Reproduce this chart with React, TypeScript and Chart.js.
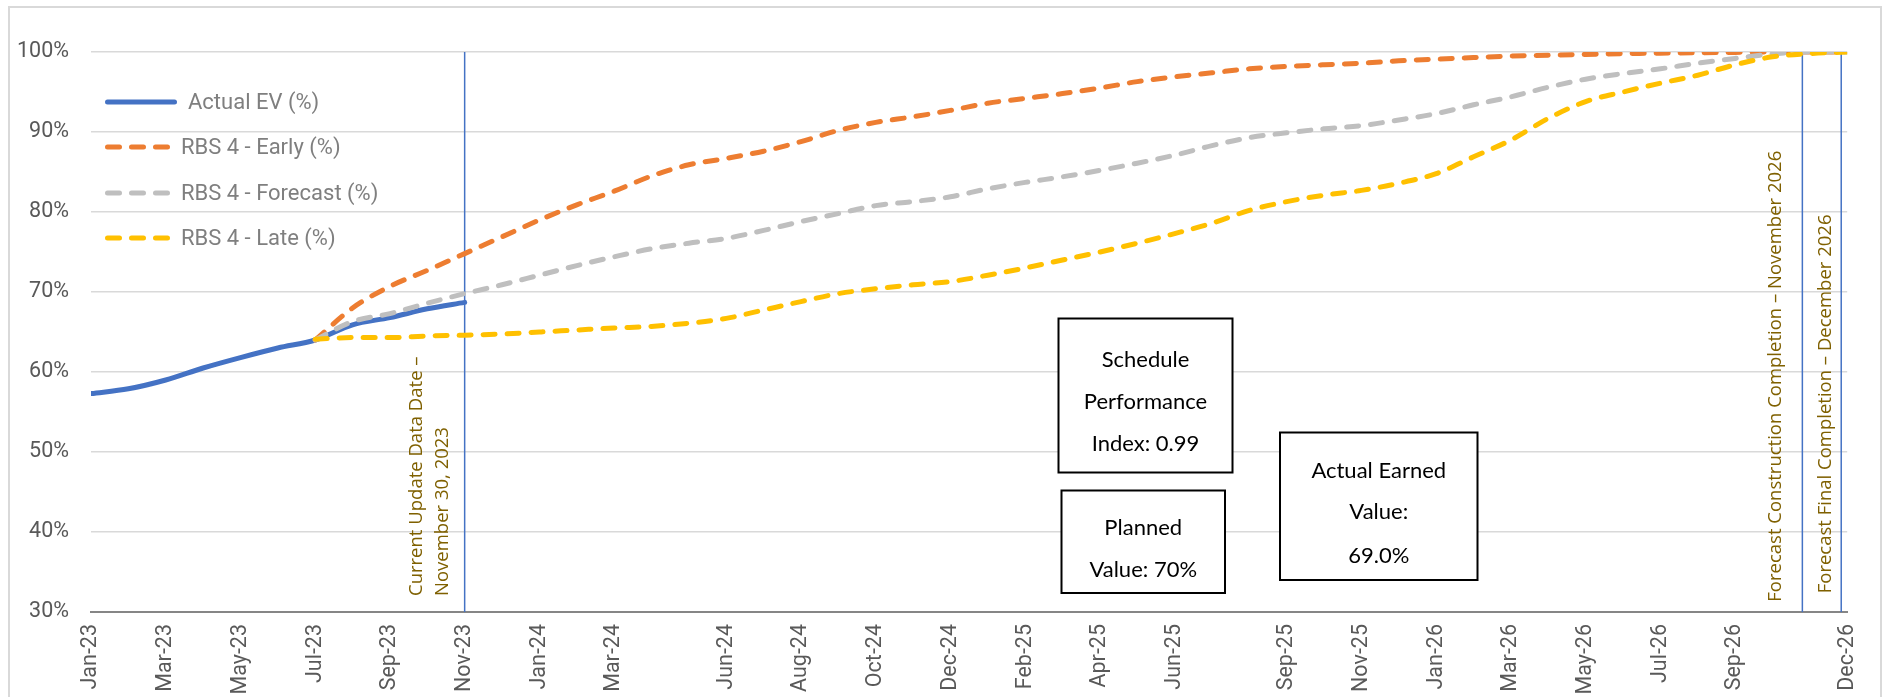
import React, { useEffect, useRef } from 'react';
import { Chart, registerables } from 'chart.js';

Chart.register(...registerables);

// ---------- data ----------
const MONTHS = [
  'Jan-23', 'Feb-23', 'Mar-23', 'Apr-23', 'May-23', 'Jun-23', 'Jul-23', 'Aug-23', 'Sep-23', 'Oct-23', 'Nov-23', 'Dec-23',
  'Jan-24', 'Feb-24', 'Mar-24', 'Apr-24', 'May-24', 'Jun-24', 'Jul-24', 'Aug-24', 'Sep-24', 'Oct-24', 'Nov-24', 'Dec-24',
  'Jan-25', 'Feb-25', 'Mar-25', 'Apr-25', 'May-25', 'Jun-25', 'Jul-25', 'Aug-25', 'Sep-25', 'Oct-25', 'Nov-25', 'Dec-25',
  'Jan-26', 'Feb-26', 'Mar-26', 'Apr-26', 'May-26', 'Jun-26', 'Jul-26', 'Aug-26', 'Sep-26', 'Oct-26', 'Nov-26', 'Dec-26',
];

const TICK_LABELS = [
  'Jan-23', 'Mar-23', 'May-23', 'Jul-23', 'Sep-23', 'Nov-23', 'Jan-24', 'Mar-24', 'Jun-24', 'Aug-24', 'Oct-24', 'Dec-24',
  'Feb-25', 'Apr-25', 'Jun-25', 'Sep-25', 'Nov-25', 'Jan-26', 'Mar-26', 'May-26', 'Jul-26', 'Sep-26', 'Dec-26',
];

const ACTUAL_START = 'Jan-23';
const ACTUAL_EV = [57.3, 57.9, 59.0, 60.5, 61.8, 63.0, 64.0, 65.9, 66.8, 67.9, 68.7];

const PLAN_START = 'Jul-23';
const EARLY = [
  64.0, 68.0, 70.7, 72.7, 74.8, 76.9, 79.0, 80.9, 82.6, 84.5, 85.9, 86.7,
  87.6, 88.8, 90.2, 91.2, 91.9, 92.7, 93.6, 94.2, 94.8, 95.5, 96.3, 96.9,
  97.4, 97.9, 98.2, 98.4, 98.6, 98.9, 99.1, 99.3, 99.5, 99.6, 99.7, 99.8,
  99.85, 99.9, 99.95, 100, 100, 100,
];
const FORECAST = [
  64.0, 66.3, 67.3, 68.6, 69.8, 70.9, 72.1, 73.3, 74.4, 75.4, 76.1, 76.7,
  77.7, 78.8, 79.8, 80.8, 81.3, 81.9, 82.9, 83.7, 84.4, 85.2, 86.1, 87.1,
  88.3, 89.3, 89.9, 90.4, 90.8, 91.5, 92.3, 93.4, 94.4, 95.6, 96.6, 97.3,
  97.9, 98.6, 99.2, 99.75, 100, 100,
];
const LATE = [
  64.1, 64.3, 64.3, 64.5, 64.6, 64.75, 65.0, 65.25, 65.5, 65.7, 66.1, 66.7,
  67.75, 68.8, 69.8, 70.4, 70.9, 71.3, 72.1, 73.0, 74.0, 75.0, 76.1, 77.3,
  78.6, 80.2, 81.3, 82.1, 82.7, 83.6, 84.8, 86.9, 89.0, 91.7, 93.8, 95.0,
  96.1, 97.1, 98.4, 99.4, 99.8, 100,
];

const SERIES_NAMES = ['Actual EV (%)', 'RBS 4 - Early (%)', 'RBS 4 - Forecast (%)', 'RBS 4 - Late (%)'];

// month-index positions of the vertical date markers
const MARKER_POSITIONS = [10.0, 45.8, 46.84];
const MARKER_TEXTS = [
  ['Current Update Data Date –', 'November 30, 2023'],
  ['Forecast Construction Completion – November 2026'],
  ['Forecast Final Completion – December 2026'],
];

const INFO_TEXTS = [
  ['Schedule', 'Performance', 'Index: 0.99'],
  ['Planned', 'Value: 70%'],
  ['Actual Earned', 'Value:', '69.0%'],
];

const Y_MIN = 30;
const Y_MAX = 100;
const Y_STEP = 10;

// ---------- styles / layout ----------
const W = 1885;
const H = 697;
const NARROW = '"Liberation Sans Narrow", "Arial Narrow", Roboto, sans-serif';
const ANNOT_FONT = '"Open Sans", sans-serif';
const BOX_FONT = 'Lato, "Noto Sans", sans-serif';
const COLORS = ['#4472C4', '#ED7D31', '#BFBFBF', '#FFC000'];
const ANNOT_COLOR = '#7F6000';
const TICK_SIZE = 21.5;

const toPoints = (start: string, vals: number[]) => {
  const s = MONTHS.indexOf(start);
  return vals.map((v, i) => ({ x: s + i, y: v }));
};

// offsets (px) of annotation text columns relative to the marker line, and text bottoms
const MARKER_TEXT_LAYOUT = [
  { dx: [-48, -22.3], bottom: 596 },
  { dx: [-26.6], bottom: 601.7 },
  { dx: [-15], bottom: 593.3 },
];

const INFO_LAYOUT = [
  { l: 1058.5, t: 318.5, r: 1232.5, b: 472.5, ys: [359.5, 401.7, 444] },
  { l: 1061.5, t: 490.5, r: 1225, b: 593, ys: [528, 570] },
  { l: 1280, t: 432.5, r: 1477.5, b: 580, ys: [470.7, 512.3, 556] },
];

const LEGEND_LAYOUT = { x0: 105, rows: [102, 147, 193, 238], solidEnd: 177, dashEnd: 170, gap: 11 };

const decorPlugin = {
  id: 'decor',
  beforeDraw(chart: any) {
    const ctx = chart.ctx;
    ctx.save();
    ctx.fillStyle = '#ffffff';
    ctx.fillRect(0, 0, W, H);
    ctx.strokeStyle = '#d9d9d9';
    ctx.lineWidth = 2;
    ctx.strokeRect(9, 7, 1872, 760);
    ctx.restore();
  },
  afterDraw(chart: any) {
    const ctx = chart.ctx;
    const xs = chart.scales.x;
    ctx.save();

    // rotated marker annotations
    ctx.fillStyle = ANNOT_COLOR;
    ctx.font = `18.5px ${ANNOT_FONT}`;
    ctx.textAlign = 'left';
    ctx.textBaseline = 'middle';
    MARKER_POSITIONS.forEach((mx, i) => {
      const px = xs.getPixelForValue(mx);
      const lay = MARKER_TEXT_LAYOUT[i];
      MARKER_TEXTS[i].forEach((line, j) => {
        ctx.save();
        ctx.translate(px + lay.dx[j], lay.bottom);
        ctx.rotate(-Math.PI / 2);
        ctx.fillText(line, 0, 0);
        ctx.restore();
      });
    });

    // info boxes
    INFO_LAYOUT.forEach((b, i) => {
      ctx.fillStyle = '#ffffff';
      ctx.fillRect(b.l, b.t, b.r - b.l, b.b - b.t);
      ctx.strokeStyle = '#000000';
      ctx.lineWidth = 2;
      ctx.strokeRect(b.l, b.t, b.r - b.l, b.b - b.t);
      ctx.fillStyle = '#000000';
      ctx.font = `22px ${BOX_FONT}`;
      ctx.textAlign = 'center';
      ctx.textBaseline = 'middle';
      INFO_TEXTS[i].forEach((line, j) => {
        ctx.fillText(line, (b.l + b.r) / 2, b.ys[j]);
      });
    });

    // legend
    const ds = chart.data.datasets;
    ctx.font = `22px ${NARROW}`;
    ctx.textAlign = 'left';
    ctx.textBaseline = 'middle';
    for (let i = 0; i < 4; i++) {
      const d = ds[i];
      const y = LEGEND_LAYOUT.rows[i];
      const lw = d.borderWidth;
      const end = i === 0 ? LEGEND_LAYOUT.solidEnd : LEGEND_LAYOUT.dashEnd;
      ctx.strokeStyle = d.borderColor;
      ctx.lineWidth = lw;
      ctx.lineCap = 'round';
      ctx.setLineDash(d.borderDash || []);
      ctx.beginPath();
      ctx.moveTo(LEGEND_LAYOUT.x0 + lw / 2, y);
      ctx.lineTo(end - lw / 2, y);
      ctx.stroke();
      ctx.setLineDash([]);
      ctx.fillStyle = '#7F7F7F';
      ctx.fillText(d.label, end + LEGEND_LAYOUT.gap, y + 1);
    }
    ctx.restore();
  },
};

export default function App() {
  const ref = useRef<HTMLCanvasElement | null>(null);

  useEffect(() => {
    if (!ref.current) return;
    const dashed = (label: string, color: string, data: number[], order: number) => ({
      label,
      data: toPoints(PLAN_START, data),
      borderColor: color,
      backgroundColor: color,
      borderWidth: 5,
      borderDash: [12, 12],
      borderCapStyle: 'round',
      borderJoinStyle: 'round',
      pointRadius: 0,
      cubicInterpolationMode: 'monotone',
      fill: false,
      order,
    });
    const markerSets = MARKER_POSITIONS.map((mx) => ({
      label: 'marker',
      data: [{ x: mx, y: Y_MIN }, { x: mx, y: Y_MAX }],
      borderColor: '#4472C4',
      borderWidth: 1.5,
      pointRadius: 0,
      fill: false,
      order: 10,
    }));
    const chart = new Chart(ref.current, {
      type: 'line',
      data: {
        datasets: [
          {
            label: SERIES_NAMES[0],
            data: toPoints(ACTUAL_START, ACTUAL_EV),
            borderColor: COLORS[0],
            backgroundColor: COLORS[0],
            borderWidth: 5,
            borderCapStyle: 'round',
            borderJoinStyle: 'round',
            pointRadius: 0,
            cubicInterpolationMode: 'monotone',
            fill: false,
            order: 3,
          },
          dashed(SERIES_NAMES[1], COLORS[1], EARLY, 2),
          dashed(SERIES_NAMES[2], COLORS[2], FORECAST, 1),
          dashed(SERIES_NAMES[3], COLORS[3], LATE, 0),
          ...markerSets,
        ] as any,
      },
      options: {
        animation: false,
        responsive: false,
        maintainAspectRatio: false,
        layout: { padding: { top: 52, right: 34, left: 0, bottom: 0 } },
        plugins: { legend: { display: false }, tooltip: { enabled: false } },
        scales: {
          x: {
            type: 'linear',
            min: 0,
            max: MONTHS.length - 1,
            afterBuildTicks: (s: any) => {
              s.ticks = TICK_LABELS.map((l) => ({ value: MONTHS.indexOf(l) }));
            },
            afterFit: (s: any) => {
              s.height = H - 612;
            },
            grid: { display: true, drawTicks: false, color: 'rgba(0,0,0,0)' },
            border: { display: true, color: '#868686', width: 2 },
            ticks: {
              autoSkip: false,
              maxRotation: 90,
              minRotation: 90,
              padding: 12,
              color: '#595959',
              font: { family: NARROW, size: TICK_SIZE },
              callback: (v: any) => MONTHS[Math.round(Number(v))] ?? '',
            },
          },
          y: {
            min: Y_MIN,
            max: Y_MAX,
            afterFit: (s: any) => {
              s.width = 91;
            },
            grid: {
              drawTicks: false,
              lineWidth: 1.5,
              color: (c: any) => (c.tick && c.tick.value === Y_MIN ? 'rgba(0,0,0,0)' : '#D9D9D9'),
            },
            border: { display: false },
            ticks: {
              stepSize: Y_STEP,
              padding: 22,
              color: '#595959',
              font: { family: NARROW, size: TICK_SIZE },
              callback: (v: any) => `${v}%`,
            },
          },
        },
      } as any,
      plugins: [decorPlugin],
    });
    return () => chart.destroy();
  }, []);

  return (
    <div style={{ position: 'absolute', left: 0, top: 0, width: W, height: H, overflow: 'hidden' }}>
      <canvas ref={ref} width={W} height={H} style={{ display: 'block', width: W, height: H }} />
    </div>
  );
}
